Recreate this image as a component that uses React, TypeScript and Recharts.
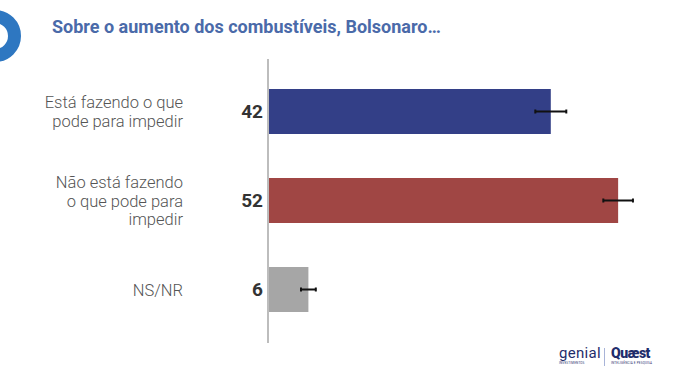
import React from "react";
import { BarChart, Bar, XAxis, YAxis, Cell, LabelList, ErrorBar } from "recharts";

const categories = ["Está fazendo o que pode para impedir", "Não está fazendo o que pode para impedir", "NS/NR"];
const categoryLines = [
    ["Está fazendo o que", "pode para impedir"],
    ["Não está fazendo", "o que pode para", "impedir"],
    ["NS/NR"],
];
const values = [42, 52, 6];
const errors = [2.3, 2.2, 1.1];
const colors = ["#333f87", "#a04644", "#a6a6a6"];

const data = categories.map((name, i) => ({
    name,
    lines: categoryLines[i],
    value: values[i],
    err: errors[i],
}));

function CategoryTick({ x, y, index }: any) {
    const lines = categoryLines[index] || [];
    const lineHeight = 18.5;
    const startY = y - ((lines.length - 1) * lineHeight) / 2;
    return (
        <text
            x={x - 85}
            y={startY}
            textAnchor="end"
            dominantBaseline="central"
            fill="#555555"
            fontSize={16.5}
            fontWeight={300}
            fontFamily="Roboto"
        >
            {lines.map((l: string, i: number) => (
                <tspan key={i} x={x - 85} y={startY + i * lineHeight}>
                    {l}
                </tspan>
            ))}
        </text>
    );
}

export default function App() {
    return (
        <div style={{ position: "absolute", left: 0, top: 0, width: 679, height: 380, background: "#fff", overflow: "hidden", fontFamily: "Roboto" }}>
            <div
                style={{
                    position: "absolute",
                    left: -31,
                    top: 10,
                    width: 26,
                    height: 26,
                    borderRadius: "50%",
                    border: "13px solid #2e77c1",
                }}
            />
            <div
                style={{
                    position: "absolute",
                    left: 52,
                    top: 16,
                    fontSize: 18,
                    fontWeight: 700,
                    color: "#4a6aa9",
                    whiteSpace: "nowrap",
                }}
            >
                Sobre o aumento dos combustíveis, Bolsonaro…
            </div>
            <BarChart
                width={679}
                height={380}
                data={data}
                layout="vertical"
                margin={{ top: 59, right: 7, bottom: 37, left: 0 }}
            >
                <XAxis type="number" domain={[0, 60]} hide />
                <YAxis
                    type="category"
                    dataKey="name"
                    width={268}
                    axisLine={{ stroke: "#bdbdbd", strokeWidth: 2 }}
                    tickLine={false}
                    tickSize={0}
                    tickMargin={0}
                    padding={{ top: 8, bottom: 9 }}
                    tick={<CategoryTick />}
                    interval={0}
                />
                <Bar dataKey="value" barSize={45} isAnimationActive={false}>
                    {data.map((d, i) => (
                        <Cell key={d.name} fill={colors[i]} />
                    ))}
                    <LabelList
                        dataKey="value"
                        position="left"
                        offset={5}
                        fill="#333333"
                        fontSize={19}
                        fontWeight={700}
                        fontFamily="Roboto"
                    />
                    <ErrorBar dataKey="err" direction="x" width={2} stroke="#111111" strokeWidth={2} />
                </Bar>
            </BarChart>
            <div style={{ position: "absolute", left: 559, top: 346, color: "#1f2d6b", lineHeight: 1 }}>
                <div style={{ fontSize: 15, fontWeight: 400, letterSpacing: 0.3 }}>genial</div>
                <div style={{ fontSize: 3, letterSpacing: 0.2, marginTop: 1 }}>INVESTIMENTOS</div>
            </div>
            <div style={{ position: "absolute", left: 604, top: 348, width: 1, height: 18, background: "#a8b4d8" }} />
            <div style={{ position: "absolute", left: 611, top: 346, color: "#1f2d6b", lineHeight: 1 }}>
                <div style={{ fontSize: 14, fontWeight: 900, letterSpacing: -0.5 }}>Quæst</div>
                <div style={{ fontSize: 3, letterSpacing: 0.2, marginTop: 2 }}>INTELIGÊNCIA E PESQUISA</div>
            </div>
        </div>
    );
}
